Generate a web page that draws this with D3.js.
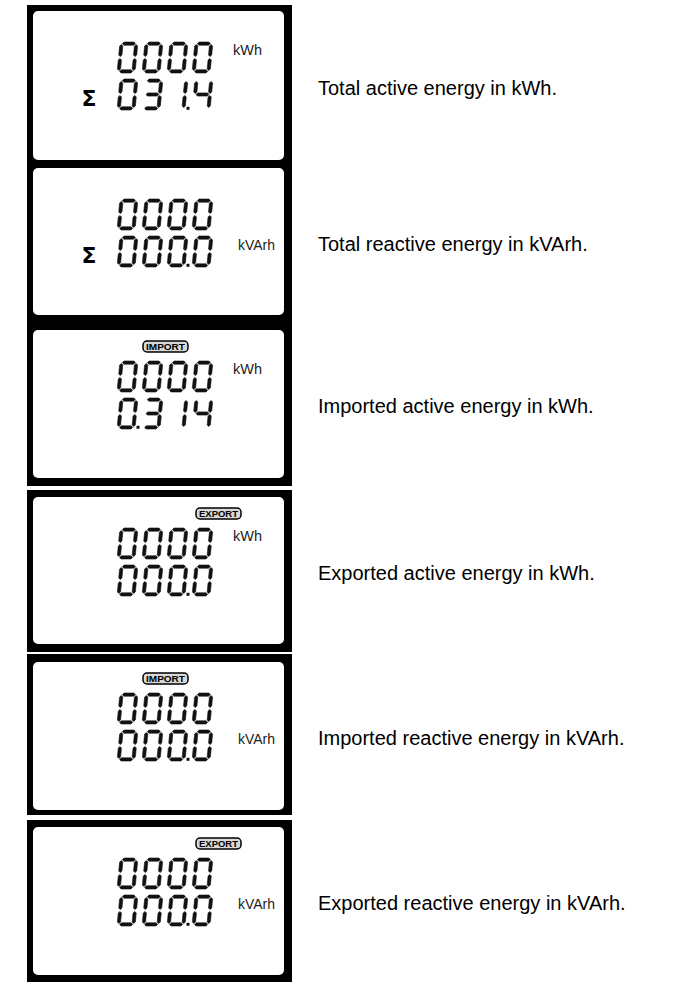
<!DOCTYPE html>
<html>
<head>
<meta charset="utf-8">
<script src="https://cdn.jsdelivr.net/npm/d3@7"></script>
<style>
  html, body { margin: 0; padding: 0; background: #fff; }
  svg { display: block; }
</style>
</head>
<body>
<svg id="chart" width="699" height="989"></svg>
<script>
// ---------- data ----------
const topReadings    = ["0000", "0000", "0000", "0000", "0000", "0000"];
const bottomReadings = ["031.4", "000.0", "0.314", "000.0", "000.0", "000.0"];
const badges         = ["", "", "IMPORT", "EXPORT", "IMPORT", "EXPORT"];
const units          = ["kWh", "kVArh", "kWh", "kWh", "kVArh", "kVArh"];
const unitRows       = [1, 2, 1, 1, 2, 2];
const sigmaShown     = [true, true, false, false, false, false];
const descriptions   = [
  "Total active energy in kWh.",
  "Total reactive energy in kVArh.",
  "Imported active energy in kWh.",
  "Exported active energy in kWh.",
  "Imported reactive energy in kVArh.",
  "Exported reactive energy in kVArh."
];

// ---------- layout ----------
const frames = [ // outerTop, outerBottom, innerTop, innerBottom
  [5, 164, 11, 160],
  [164, 322, 168, 315],
  [322, 486, 330, 478],
  [490, 652, 497, 644],
  [654, 815, 662, 810],
  [820, 982, 827, 975]
];
const outerX0 = 27, outerX1 = 292, innerX0 = 33, innerX1 = 284;

const svg = d3.select("#chart");
svg.append("rect").attr("width", 699).attr("height", 989).attr("fill", "#fff");

const slot = d3.scaleBand().domain([0, 1, 2, 3]).range([117, 210]).paddingInner(0.28).paddingOuter(0);
const DW = slot.bandwidth(), DH = 31, SL = 3, T = 3.2, G = 0.9;

const SEG = {
  "0": "abcdef", "1": "bc", "2": "abged", "3": "abgcd", "4": "fgbc",
  "5": "afgcd", "6": "afgedc", "7": "abc", "8": "abcdefg", "9": "abcdfg"
};

function skew(p) { return [p[0] + SL * (1 - p[1] / DH), p[1]]; }
function hseg(x0, x1, y) {
  const h = T / 2;
  return [[x0, y], [x0 + h, y - h], [x1 - h, y - h], [x1, y], [x1 - h, y + h], [x0 + h, y + h]];
}
function vseg(x, y0, y1) {
  const h = T / 2;
  return [[x, y0], [x + h, y0 + h], [x + h, y1 - h], [x, y1], [x - h, y1 - h], [x - h, y0 + h]];
}
const hx0 = T / 2 + G, hx1 = DW - T / 2 - G;
const segPolys = {
  a: hseg(hx0, hx1, T / 2),
  g: hseg(hx0, hx1, DH / 2),
  d: hseg(hx0, hx1, DH - T / 2),
  f: vseg(T / 2, T / 2 + G, DH / 2 - G),
  b: vseg(DW - T / 2, T / 2 + G, DH / 2 - G),
  e: vseg(T / 2, DH / 2 + G, DH - T / 2 - G),
  c: vseg(DW - T / 2, DH / 2 + G, DH - T / 2 - G)
};
const line = d3.line();

function parseReading(s) {
  const cells = [];
  for (const ch of s) {
    if (ch === ".") { if (cells.length) cells[cells.length - 1].dp = true; }
    else cells.push({ ch, dp: false });
  }
  return cells;
}

function drawRow(g, reading, y) {
  const cells = parseReading(reading);
  const row = g.append("g").attr("transform", `translate(0,${y})`);
  cells.forEach((c, i) => {
    const dg = row.append("g").attr("transform", `translate(${slot(i)},0)`);
    for (const s of SEG[c.ch]) {
      dg.append("path")
        .attr("d", line(segPolys[s].map(skew)) + "Z")
        .attr("fill", "#111")
        .attr("stroke", "#111").attr("stroke-width", 0.6).attr("stroke-linejoin", "round");
    }
    if (c.dp) {
      dg.append("rect")
        .attr("x", DW + 1.5).attr("y", DH - 3.2)
        .attr("width", 3).attr("height", 3).attr("fill", "#111");
    }
  });
}

frames.forEach((f, i) => {
  const [oT, oB, iT, iB] = f;
  const g = svg.append("g");
  g.append("rect").attr("x", outerX0).attr("y", oT)
    .attr("width", outerX1 - outerX0).attr("height", oB - oT).attr("fill", "#000");
  g.append("rect").attr("x", innerX0).attr("y", iT)
    .attr("width", innerX1 - innerX0).attr("height", iB - iT)
    .attr("rx", 5).attr("fill", "#fff");

  const row1 = iT + 31, row2 = iT + 68;
  drawRow(g, topReadings[i], row1);
  drawRow(g, bottomReadings[i], row2);

  if (sigmaShown[i]) {
    g.append("text").attr("x", 89).attr("y", iT + 87)
      .attr("text-anchor", "middle").attr("dominant-baseline", "central")
      .attr("font-family", "DejaVu Sans, sans-serif")
      .attr("font-weight", "bold").attr("font-size", 22)
      .text("Σ");
  }

  if (badges[i]) {
    const bx = badges[i] === "IMPORT" ? 143 : 196;
    const by = iT + 11;
    g.append("rect").attr("x", bx).attr("y", by).attr("width", 45).attr("height", 11)
      .attr("rx", 4).attr("fill", "#d8d8d8").attr("stroke", "#000").attr("stroke-width", 1.5);
    g.append("text").attr("x", bx + 22.5).attr("y", by + 5.8)
      .attr("text-anchor", "middle").attr("dominant-baseline", "central")
      .attr("font-family", "Liberation Sans, Arial, sans-serif")
      .attr("font-weight", "bold").attr("font-size", 8.5)
      .attr("textLength", 39).attr("lengthAdjust", "spacingAndGlyphs")
      .text(badges[i]);
  }

  const isKWh = units[i] === "kWh";
  const ux = isKWh ? 233 : 238;
  const uy = unitRows[i] === 1 ? iT + 32 : iT + 70;
  g.append("text").attr("x", ux).attr("y", uy + 12)
    .attr("font-family", "Liberation Sans Narrow, Arial Narrow, Liberation Sans, Arial, sans-serif")
    .attr("font-size", 15)
    .attr("textLength", isKWh ? 29 : 37).attr("lengthAdjust", "spacingAndGlyphs")
    .attr("fill", "#222")
    .text(units[i]);

  g.append("text").attr("x", 318).attr("y", (iT + iB) / 2 + 2)
    .attr("dominant-baseline", "central")
    .attr("font-family", "Liberation Sans, Arial, sans-serif")
    .attr("font-size", 20).attr("fill", "#000")
    .text(descriptions[i]);
});
</script>
</body>
</html>
